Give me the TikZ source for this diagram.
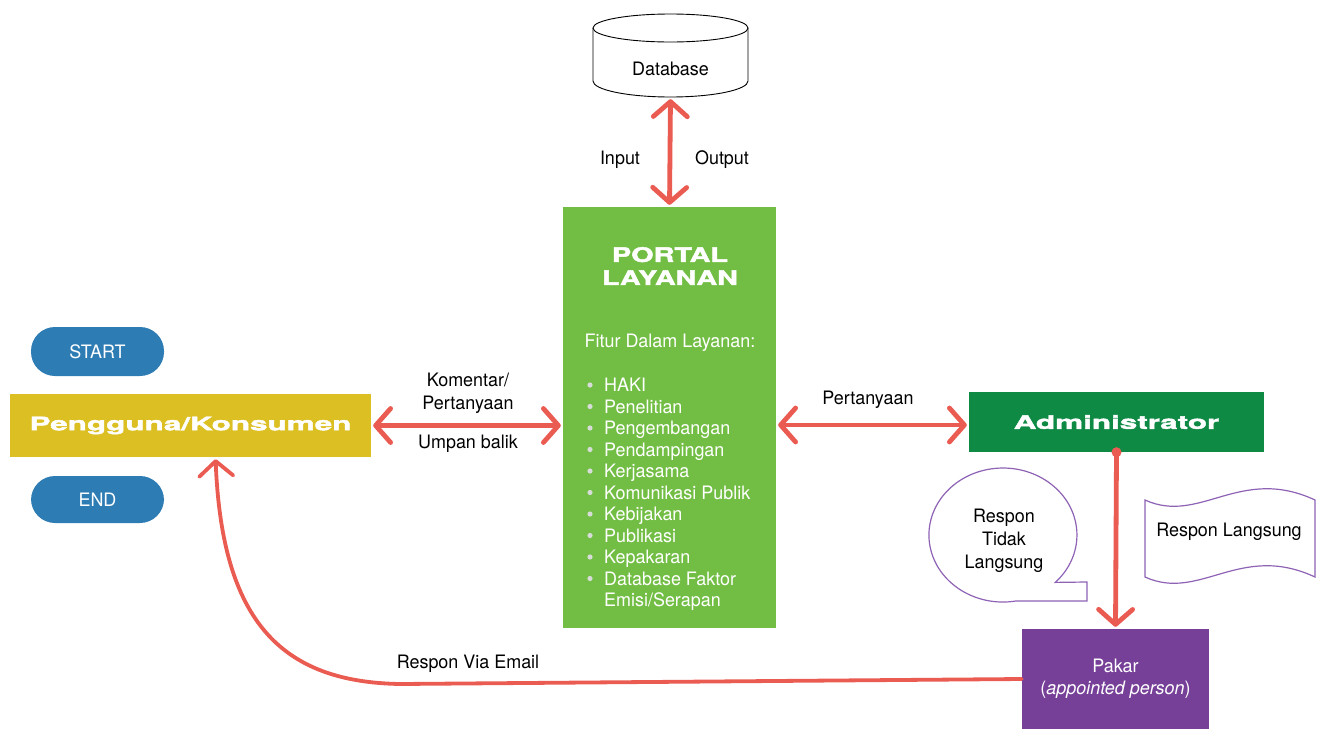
\documentclass[tikz,border=0pt]{standalone}
\usepackage{fontspec}
\setmainfont{TeX Gyre Heros}[FakeStretch=0.97]
\newfontfamily\blackfont{TeX Gyre Heros}[FakeStretch=1.7,FakeBold=2.2]
\newfontfamily\widefont{TeX Gyre Heros}[FakeStretch=1.44,FakeBold=2.2]
\usetikzlibrary{arrows.meta}
\definecolor{arrowred}{HTML}{EA5B52}
\definecolor{portalgreen}{HTML}{72BE44}
\definecolor{usergold}{HTML}{DCBF22}
\definecolor{pillblue}{HTML}{2E7CB4}
\definecolor{admingreen}{HTML}{0E8A45}
\definecolor{pakarpurple}{HTML}{774098}
\definecolor{outlinepurple}{HTML}{8E63B5}
\definecolor{bulletgrey}{HTML}{D8DCD8}
\tikzset{
  lbl/.style={font=\fontsize{18.5}{23}\selectfont, inner sep=0pt, align=center},
  itemtxt/.style={font=\fontsize{18.5}{22}\selectfont, text=white, inner sep=0pt, anchor=base west},
  redline/.style={draw=arrowred, line width=4.8pt, line cap=round, shorten >=2pt, shorten <=2pt},
  boxfill/.style={inner sep=0pt, draw=none},
  pill/.style={boxfill, fill=pillblue, rounded corners=24pt, minimum width=133pt, text=white, font=\fontsize{18.5}{22}\selectfont},
  bigtitle/.style={text=white, font=\blackfont\bfseries\fontsize{18.5}{22}\selectfont},
  outline/.style={draw=outlinepurple, line width=1.2pt, fill=white}
}
\begin{document}
\begin{tikzpicture}[x=1pt,y=-1pt, >={Straight Barb[length=15pt,width=34pt,round]}]
\useasboundingbox (0,0) rectangle (1318,729);

% Database cylinder
\draw[black, line width=0.9pt, fill=white] (593,28) -- (593,81) arc[start angle=180, end angle=0, x radius=77.5, y radius=16] -- (748,28);
\draw[black, line width=0.9pt, fill=white] (670.5,28) ellipse[x radius=77.5, y radius=14];
\node[boxfill, minimum width=155pt, minimum height=84pt] (db) at (670.5,55) {};
\node[lbl] (dbtext) at (670.5,69) {Database};

% Portal
\node[boxfill, fill=portalgreen, minimum width=213pt, minimum height=421pt] (portal) at (669.5,417.5) {};
\node[text=white, inner sep=0pt, align=center, font=\widefont\bfseries\fontsize{20}{23}\selectfont] (ptitle) at (670,266) {PORTAL\\LAYANAN};
\node[lbl, text=white] (fitur) at (670,343) {Fitur Dalam Layanan:};
\foreach \i/\yy/\t in {1/385/HAKI, 2/406.5/Penelitian, 3/428/Pengembangan, 4/449.5/Pendampingan, 5/471/Kerjasama, 6/492.5/Komunikasi Publik, 7/514/Kebijakan, 8/535.5/Publikasi, 9/557/Kepakaran, 10/578.5/Database Faktor}{
  \fill[bulletgrey] (590,\yy) circle (2.6);
  \node[itemtxt] (item\i) at (604,\yy+6.5) {\t};
}
\node[itemtxt] (item11) at (604,606.5) {Emisi/Serapan};

% Left side
\node[pill, minimum height=49pt] (start) at (97.5,351.5) {START};
\node[pill, minimum height=47pt] (end) at (97.5,499.5) {END};
\node[boxfill, fill=usergold, minimum width=361pt, minimum height=63pt, bigtitle] (user) at (190.5,425.5) {Pengguna/Konsumen};

% Administrator
\node[boxfill, fill=admingreen, minimum width=295pt, minimum height=60pt, bigtitle] (admin) at (1116.5,422) {Administrator};

% Pakar
\node[boxfill, fill=pakarpurple, minimum width=187pt, minimum height=100pt, text=white, align=center, font=\fontsize{18.5}{22}\selectfont] (pakar) at (1115.5,679) {Pakar\\(\textit{appointed person})};

% Speech bubble
\draw[outline] (1015.8,601) arc[start angle=80, end angle=405, x radius=74, y radius=67] -- (1087,582) -- (1087,601) -- cycle;
\node[lbl] (tidak) at (1004,541) {Respon\\Tidak\\Langsung};

% Wavy document
\draw[outline] (1145,500) .. controls (1200,525) and (1240,465) .. (1315,500) -- (1315,577) .. controls (1240,542) and (1200,602) .. (1145,577) -- cycle;
\node[lbl] (langsung) at (1229,532) {Respon Langsung};

% Arrows
\draw[redline, <->] (db.south) -- (portal.north);
\node[lbl] (input) at (620,160) {Input};
\node[lbl] (output) at (722,160) {Output};

\draw[redline, <->] (user.east) -- (portal.west |- user.east);
\node[lbl] (komentar) at (468,393.5) {Komentar/\\Pertanyaan};
\node[lbl] (umpan) at (468,444) {Umpan balik};

\draw[redline, <->] (portal.east |- 0,425) -- (admin.west |- 0,425);
\node[lbl] (tanya) at (868,400) {Pertanyaan};

\draw[redline, ->] (admin.south) -- (pakar.north);
\fill[arrowred] (admin.south) circle (5);

\draw[redline, line width=3.8pt, ->, shorten <=0pt] (pakar.west) -- (400,684) .. controls (280,682) and (222,620) .. ([xshift=25pt]user.south);
\node[lbl] (email) at (468,664) {Respon Via Email};
\end{tikzpicture}
\end{document}
